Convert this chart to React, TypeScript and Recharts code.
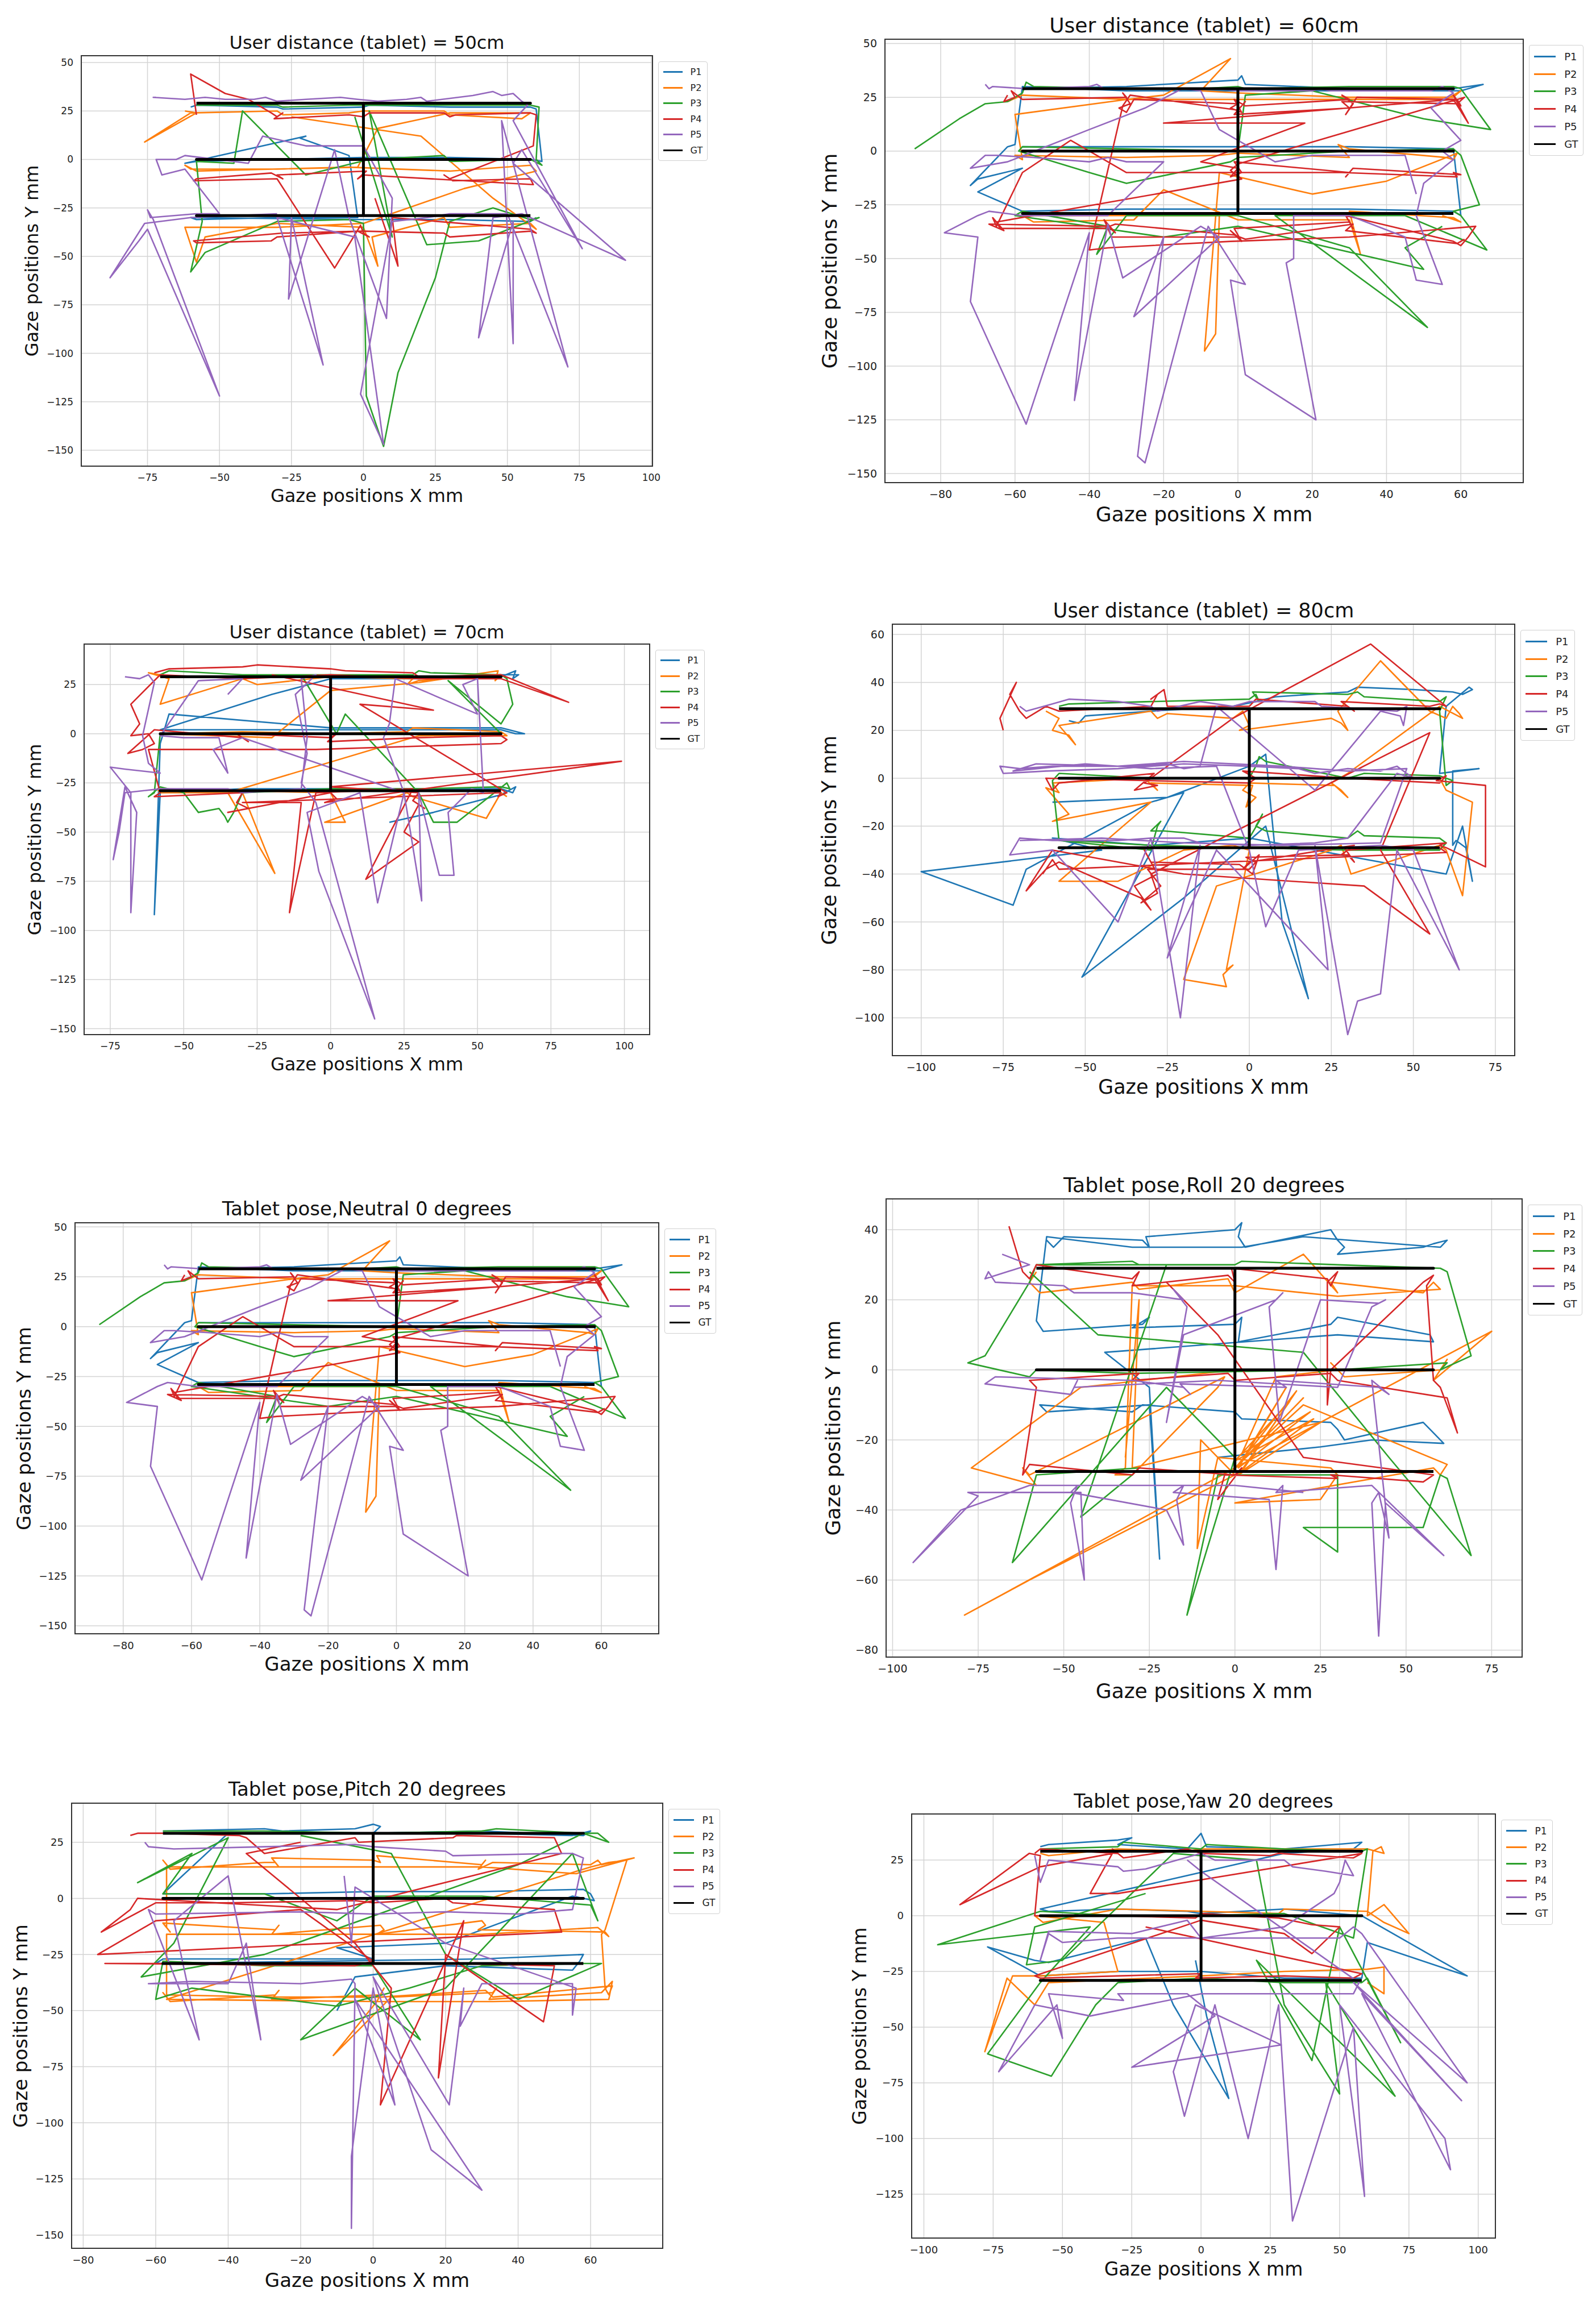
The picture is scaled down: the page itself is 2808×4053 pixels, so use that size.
import { CartesianGrid, ReferenceArea, Scatter, ScatterChart, XAxis, YAxis } from "recharts";

type Pt = [number, number];

// tab10 colours used by matplotlib, then the black ground truth
const COLORS = ["#1f77b4", "#ff7f0e", "#2ca02c", "#d62728", "#9467bd", "#000000"];
const NAMES = ["P1", "P2", "P3", "P4", "P5", "GT"];

// ground-truth "I" pattern (same for every panel)
const GT: Pt[] = [[-58, 29], [58, 29], [0, 29], [0, 0], [-58, 0], [58, 0], [0, 0], [0, -29], [-58, -29], [58, -29]];

// tick labels
const TICKS_X_25 = [-75, -50, -25, 0, 25, 50, 75, 100];
const TICKS_X_20 = [-80, -60, -40, -20, 0, 20, 40, 60];
const TICKS_X_100_75 = [-100, -75, -50, -25, 0, 25, 50, 75];
const TICKS_X_100_100 = [-100, -75, -50, -25, 0, 25, 50, 75, 100];
const TICKS_Y_150_50 = [-150, -125, -100, -75, -50, -25, 0, 25, 50];
const TICKS_Y_150_25 = [-150, -125, -100, -75, -50, -25, 0, 25];
const TICKS_Y_100_60 = [-100, -80, -60, -40, -20, 0, 20, 40, 60];
const TICKS_Y_80_40 = [-80, -60, -40, -20, 0, 20, 40];
const TICKS_Y_125_25 = [-125, -100, -75, -50, -25, 0, 25];

// ---- user distance 50cm
const d50P1: Pt[] = [[-60, 27], [-58, 28], [-30, 27], [-28, 26], [0, 27], [2, 28], [30, 27], [58, 27], [60, 26], [62, -1], [58, 0], [30, 1], [0, 1], [-30, 0], [-58, -1], [-62, -2], [-20, 12], [-22, 11], [-5, 2], [-2, -30], [-30, -30], [-58, -31], [-60, -30], [0, -31], [30, -31], [58, -32], [60, -30]];
const d50P2: Pt[] = [[-62, 25], [-58, 24], [-76, 9], [-60, 24], [-30, 25], [-28, 23], [-5, 24], [0, 25], [28, 25], [30, 23], [55, 21], [58, 24], [30, 24], [5, 16], [-2, -4], [-30, -5], [-60, -5], [-62, -3], [-58, -6], [-5, -4], [30, -6], [58, -3], [60, -6], [35, -15], [0, -33], [-30, -35], [-62, -35], [-58, -53], [-55, -40], [-30, -33], [0, -35], [5, -55], [3, -40], [28, -30], [30, -35], [58, -33], [60, -36], [45, -20], [20, 12], [-25, 22]];
const d50P3: Pt[] = [[-58, 28], [-30, 28], [-28, 27], [-5, 28], [0, 28], [28, 28], [58, 28], [61, 27], [60, 0], [62, -3], [58, 0], [30, -1], [28, 2], [2, 0], [-20, -8], [-42, 25], [-45, -2], [-58, -1], [-56, -32], [-60, -58], [-55, -48], [-30, -32], [-5, -31], [0, -33], [1, -122], [7, -148], [12, -110], [25, -61], [30, -32], [45, -25], [58, -31], [61, -30], [40, -42], [22, -44], [2, 25], [10, -40], [-3, 22]];
const d50P4: Pt[] = [[-58, 23], [-60, 44], [-48, 34], [-40, 31], [-32, 24], [-30, 22], [-28, 24], [-31, 21], [-5, 23], [0, 22], [2, 24], [28, 24], [30, 22], [32, 23], [58, 24], [60, 23], [59, 7], [30, -10], [28, -8], [31, -11], [58, -10], [59, -13], [0, -8], [-2, -10], [1, -6], [-30, -8], [-28, -10], [-32, -7], [-58, -10], [-59, -11], [-30, -10], [-10, -56], [-1, -34], [0, -38], [2, -40], [-2, -37], [-30, -40], [-32, -42], [-58, -43], [-59, -42], [-28, -38], [0, -37], [28, -38], [30, -40], [58, -37], [60, -38], [58, -36], [10, -30], [12, -55], [4, -20]];
const d50P5: Pt[] = [[-72, 32], [-73, 32], [-62, 31], [-55, 32], [-48, 31], [-38, 31], [-34, 32], [-30, 30], [-20, 31], [-8, 32], [-2, 31], [5, 30], [15, 31], [20, 32], [22, 30], [38, 33], [45, 35], [48, 33], [52, 34], [55, 30], [57, 28], [52, 20], [76, -46], [55, 5], [52, -2], [91, -52], [55, -28], [45, -30], [40, -92], [52, -32], [52, -95], [48, 20], [71, -107], [50, -28], [30, -28], [22, -30], [10, -32], [-1, -121], [7, -147], [-3, -40], [-30, -30], [-14, -106], [-25, -30], [-26, -72], [-10, 5], [-5, -30], [8, -82], [10, -20], [0, 7], [-20, 7], [-35, 12], [-40, -2], [-62, 2], [-65, 0], [-72, 0], [-70, -8], [-62, -5], [-50, -28], [-58, -28], [-74, -30], [-75, -26], [-73, -31], [-50, -122], [-75, -36], [-78, -42], [-88, -61], [-76, -33], [-60, -30], [-30, -28]];

// ---- user distance 60cm (same recording appears as "Neutral 0 degrees")
const d60P1: Pt[] = [[-58, 29], [-30, 30], [0, 33], [1, 35], [2, 31], [30, 29], [58, 29], [66, 31], [60, 28], [30, 28], [0, 28], [-30, 28], [-58, 30], [-60, 3], [-62, 2], [-72, -16], [-70, -13], [-58, -8], [-70, -19], [-62, -25], [-58, -28], [-30, -27], [0, -27], [30, -27], [58, -28], [60, -30], [58, 1], [30, 2], [0, 2], [-30, 2], [-58, 2]];
const d60P2: Pt[] = [[-62, 23], [-58, 26], [-30, 24], [-20, 26], [-2, 43], [-10, 28], [0, 27], [30, 25], [58, 25], [60, 28], [56, 24], [30, 24], [0, 24], [-30, 24], [-60, 17], [-58, -4], [-60, -2], [-30, -3], [-5, -2], [0, -1], [30, -3], [27, 3], [30, 1], [56, -3], [58, -4], [59, -1], [40, -14], [20, -20], [-5, -10], [-9, -93], [-6, -85], [-5, -30], [-30, -30], [-58, -30], [-55, -33], [-28, -32], [-20, -18], [0, -32], [30, -32], [33, -48], [30, -28], [58, -31], [60, -33], [55, -30]];
const d60P3: Pt[] = [[-87, 1], [-75, 15], [-68, 22], [-62, 23], [-58, 27], [-57, 32], [-55, 30], [-30, 29], [-10, 29], [0, 30], [2, 29], [30, 30], [45, 30], [58, 30], [60, 29], [68, 10], [50, 15], [20, 28], [2, 26], [0, 0], [-30, 1], [-58, 2], [-59, 0], [-40, -10], [-30, -15], [-2, -5], [0, -3], [30, 0], [58, 1], [60, -2], [65, -25], [58, -28], [60, -30], [67, -46], [45, -30], [10, -30], [51, -82], [30, -45], [0, -30], [-30, -30], [-38, -48], [-35, -35], [-58, -28], [-60, -30], [-20, -40], [0, -35], [50, -55], [45, -45], [55, -35]];
const d60P4: Pt[] = [[-62, 26], [-63, 23], [-60, 25], [-61, 28], [-58, 24], [-30, 25], [-31, 27], [-29, 22], [-32, 20], [-30, 18], [-28, 24], [0, 22], [-2, 20], [1, 18], [-1, 24], [2, 21], [30, 24], [28, 26], [31, 22], [29, 17], [32, 25], [59, 24], [60, 21], [58, 26], [62, 13], [58, 24], [-20, 13], [18, 13], [-10, -5], [0, -8], [-2, -12], [1, -10], [-1, -5], [30, -10], [29, -12], [31, -8], [60, -11], [58, -10], [59, -12], [28, -10], [-30, -10], [-45, 5], [-58, -10], [-65, -35], [-66, -31], [-63, -37], [-67, -34], [-35, -35], [-33, -38], [-36, -32], [-34, -40], [0, -40], [-2, -37], [1, -42], [-1, -36], [30, -33], [31, -36], [29, -30], [58, -42], [60, -44], [62, -40], [64, -35], [30, -40], [-2, -42], [-35, -45], [-40, -46], [-31, 21], [-29, 26], [0, 19], [2, 23], [-1, 17], [30, 20], [28, 23], [59, 22], [61, 25], [0, -6], [-2, -9], [1, -13], [-65, -33], [-64, -36], [-36, -36], [-33, -34], [-1, -39], [2, -41], [31, -34], [29, -37], [59, -43], [61, -41]];
const d60P5: Pt[] = [[-68, 31], [-67, 29], [-66, 30], [-57, 29], [-40, 30], [-38, 31], [-36, 29], [-20, 29], [-10, 29], [-5, 29], [0, 28], [20, 28], [22, 29], [25, 28], [40, 28], [52, 28], [55, 30], [58, 27], [52, 20], [60, 5], [55, 0], [58, -4], [50, -15], [48, -30], [55, -62], [48, -60], [45, -40], [30, -30], [20, -30], [15, -30], [15, -50], [13, -52], [21, -125], [2, -104], [-2, -60], [2, -62], [-8, -35], [-25, -145], [-27, -142], [-20, -40], [-28, -77], [-5, -40], [-10, -35], [-31, -59], [-35, -34], [-44, -116], [-40, -38], [-57, -127], [-72, -70], [-70, -40], [-79, -38], [-70, -30], [-67, -28], [-58, -30], [-35, -30], [-20, -5], [-30, -5], [-35, -3], [-40, -5], [-55, -3], [-65, -2], [-68, -2], [-72, -8], [-62, -5], [-40, 10], [-25, 20], [-15, 29], [-10, 28], [-5, 10], [10, -5], [20, -2], [30, -2], [45, -2], [48, -20]];

// ---- user distance 70cm
const d70P1: Pt[] = [[-58, 29], [-30, 29], [0, 30], [30, 29], [58, 29], [63, 32], [62, 28], [64, 30], [58, 30], [30, 28], [0, 28], [-20, 20], [-58, 2], [-30, 2], [0, 2], [30, 2], [58, 2], [63, 0], [66, 0], [58, 3], [30, 3], [0, 3], [-55, 10], [-58, -5], [-60, -92], [-58, -30], [-30, -28], [0, -28], [30, -28], [58, -28], [62, -30], [63, -27], [58, -31], [35, -40], [20, -45]];
const d70P2: Pt[] = [[-58, 30], [-62, 31], [-55, 28], [-58, 15], [-30, 28], [-25, 25], [0, 29], [28, 28], [26, 25], [30, 27], [58, 30], [56, 27], [57, 32], [30, 26], [0, 22], [-20, -2], [-58, 0], [-30, 1], [0, 0], [26, 1], [28, 3], [58, 1], [60, -1], [30, -1], [-35, -30], [-19, -71], [-30, -30], [-58, -30], [-59, -28], [-30, -29], [0, -30], [5, -45], [-2, -45], [26, -30], [28, -32], [53, -43], [58, -30], [60, -32]];
const d70P3: Pt[] = [[-58, 30], [-55, 32], [-30, 30], [0, 30], [28, 30], [30, 32], [34, 31], [58, 30], [60, 28], [62, 15], [58, 5], [40, 27], [58, 0], [30, 0], [0, 0], [-30, 0], [-58, 0], [-60, -30], [-62, -32], [-58, -27], [-50, -30], [-45, -40], [-38, -38], [-36, -42], [-35, -45], [-33, -40], [-30, -30], [0, -28], [30, -28], [58, -27], [61, -28], [60, -25], [43, -45], [35, -45], [30, -30], [5, 10], [2, 0], [-10, 30]];
const d70P4: Pt[] = [[-60, 31], [-55, 33], [-30, 34], [-25, 35], [0, 33], [5, 32], [28, 31], [30, 29], [58, 30], [81, 16], [58, 28], [30, 28], [0, 30], [-30, 28], [-58, 30], [-68, 15], [-65, 5], [-68, -1], [-62, 0], [-60, -5], [-64, -8], [-69, -10], [-60, 2], [-30, -2], [-28, -4], [-32, 0], [0, -2], [2, 0], [-1, -4], [30, -2], [58, -1], [60, -3], [58, -5], [-5, -8], [-62, -8], [-58, -30], [-60, -32], [-30, -30], [-32, -35], [-28, -38], [-35, -40], [0, -30], [2, -33], [-2, -35], [99, -14], [0, -27], [30, -30], [28, -34], [32, -38], [30, -36], [25, -50], [30, -55], [12, -74], [28, -28], [-5, -30], [-14, -91], [-10, -35], [-30, -35], [58, -30], [57, -32], [60, -30], [10, 15], [35, 12], [-20, 30]];
const d70P5: Pt[] = [[-70, 29], [-65, 28], [-62, 30], [-60, 26], [-64, -1], [-62, -15], [-58, -20], [-70, -18], [-75, -17], [-68, -30], [-68, -91], [-66, -40], [-70, -27], [-74, -64], [-72, -50], [-70, -30], [-58, -28], [-35, -28], [-30, -30], [-10, -28], [-8, -2], [-10, 28], [-5, 30], [-12, 20], [-8, -10], [-10, -25], [-5, -35], [15, -145], [-4, -70], [-8, -40], [10, -30], [16, -86], [25, -30], [31, -85], [30, -30], [37, -72], [42, -72], [40, -40], [48, -28], [52, -30], [50, 28], [45, 25], [50, 10], [22, 28], [20, 5], [18, -2], [25, -30], [-30, -2], [-40, -8], [-35, -20], [-38, -2], [-50, -2], [-58, -1], [-45, 27], [-30, 28], [-35, 20]];

// ---- user distance 80cm
const d80P1: Pt[] = [[-55, 24], [-52, 23], [-50, 26], [-30, 28], [-5, 30], [2, 32], [8, 34], [30, 36], [33, 38], [50, 37], [62, 36], [65, 35], [68, 37], [67, 38], [60, 30], [58, 2], [70, 4], [62, 3], [62, -28], [63, -26], [66, -29], [68, -43], [65, -20], [60, -40], [20, -30], [0, -25], [-30, -28], [-60, -25], [-45, -30], [-100, -39], [-72, -53], [-68, -38], [-30, -10], [-20, -6], [-51, -83], [-20, -50], [5, -20], [18, -92], [10, -60], [5, 10], [0, 5], [-25, -8], [-60, -10]];
const d80P2: Pt[] = [[-62, 28], [-58, 25], [-60, 20], [-55, 18], [-53, 14], [-58, 22], [-30, 28], [-28, 25], [-25, 27], [-5, 25], [-2, 28], [0, 22], [-3, 20], [25, 25], [28, 23], [30, 20], [27, 28], [40, 49], [55, 28], [60, 25], [62, 30], [64, 27], [65, 25], [58, 30], [30, 2], [25, -2], [28, -5], [30, -8], [26, -3], [0, -2], [-2, -5], [2, -8], [-1, -12], [1, -3], [-30, -2], [-28, -5], [-32, 0], [-60, -2], [-58, -6], [-62, -4], [-55, -15], [-60, -18], [-30, -10], [-58, -43], [-40, -43], [-20, -30], [-5, -28], [0, -30], [-7, -80], [-5, -78], [-8, -82], [-7, -87], [-20, -84], [-10, -45], [25, -30], [28, -28], [31, -40], [58, -28], [60, -30], [65, -49], [68, -10], [60, -5], [58, 0]];
const d80P3: Pt[] = [[-58, 30], [-55, 31], [-30, 32], [0, 33], [2, 35], [3, 32], [1, 36], [30, 35], [33, 36], [35, 34], [58, 32], [60, 34], [58, 28], [60, -3], [62, -1], [58, 1], [35, 2], [30, 0], [5, 7], [3, 9], [2, 5], [0, 0], [-30, 0], [-58, 2], [-60, -1], [-58, -26], [-30, -30], [-28, -20], [-27, -18], [-30, -22], [-26, -22], [0, -25], [3, -18], [4, -15], [2, -20], [5, -22], [30, -25], [33, -22], [35, -24], [58, -25], [60, -27], [58, -30], [30, -30], [0, -29], [-30, -28], [-55, -26]];
const d80P4: Pt[] = [[-75, 20], [-76, 25], [-71, 40], [-73, 35], [-70, 28], [-68, 25], [-62, 30], [-58, 28], [-30, 30], [-28, 35], [-30, 33], [-26, 37], [-25, 30], [0, 30], [2, 33], [30, 30], [32, 28], [28, 32], [55, 30], [58, 31], [60, 30], [37, 56], [-5, 25], [-30, 0], [-32, -2], [-28, -3], [-35, -5], [-29, 2], [-58, -2], [-60, -5], [-62, 0], [0, -2], [2, 0], [-2, 3], [30, 0], [58, -2], [60, 1], [57, -1], [72, -3], [72, -37], [60, -29], [58, -28], [60, -27], [30, -30], [28, -32], [32, -28], [0, -35], [-2, -38], [3, -32], [1, -40], [-3, -36], [-30, -35], [-32, -30], [-28, -40], [-35, -45], [-30, -55], [-33, -50], [-58, -35], [-62, -38], [-68, -47], [-60, -30], [-20, -40], [35, -45], [55, -65], [40, -30], [55, 19], [-30, -40], [-28, -48], [-33, -52], [-27, -45], [-31, -38], [0, -38], [2, -35], [-1, -33], [30, -32], [32, -35], [29, -29], [58, -29], [60, -31], [-58, -38], [-60, -34], [-63, -40]];
const d80P5: Pt[] = [[-70, 30], [-68, 28], [-60, 31], [-55, 33], [-40, 32], [-30, 30], [-28, 28], [-15, 32], [-5, 30], [0, 32], [20, 32], [22, 30], [45, 28], [48, 30], [47, 22], [46, 26], [40, 28], [20, -5], [-10, 30], [-15, 5], [-20, 4], [-25, 6], [-35, 5], [-45, 5], [-60, 5], [-70, 4], [-76, 5], [-75, 2], [-62, 3], [-40, 4], [-20, 6], [0, 5], [15, 4], [20, 2], [30, 4], [40, 3], [45, 5], [50, 0], [45, 2], [30, -25], [20, -27], [0, -28], [-15, -27], [-20, -25], [-30, -25], [-40, -26], [-60, -26], [-70, -25], [-73, -32], [-60, -30], [-40, -60], [-30, -25], [-21, -100], [-15, -28], [-25, -75], [-10, -30], [24, -80], [20, -28], [30, -107], [33, -93], [40, -90], [45, -30], [64, -80], [50, -30], [40, -28], [15, -30], [5, -62], [0, -30], [-10, 5], [-30, 4], [-50, 6], [-72, 3], [-65, 6], [-40, 5], [-20, 7], [10, 5], [30, 3], [48, 4], [40, -27], [10, -28], [-20, -27], [-45, -25], [-70, -26]];

// ---- tablet pose roll 20
const rollP1: Pt[] = [[-55, 37], [-53, 35], [-50, 38], [-27, 37], [-25, 35], [-26, 38], [0, 40], [2, 42], [1, 38], [3, 35], [28, 40], [30, 37], [32, 35], [30, 33], [55, 35], [58, 36], [62, 37], [60, 35], [20, 38], [2, 35], [-30, 35], [-55, 38], [-58, 14], [-56, 11], [-27, 13], [-25, 15], [-30, 12], [0, 13], [2, 15], [1, 8], [28, 13], [30, 15], [57, 10], [58, 8], [30, 10], [-38, 5], [-25, -5], [-22, -54], [-25, -10], [-55, -12], [-57, -10], [-30, -12], [-27, -10], [0, -12], [2, -14], [28, -15], [30, -17], [32, -20], [55, -15], [57, -17], [61, -21], [40, -20], [25, -22], [-5, -25]];
const rollP2: Pt[] = [[-58, 28], [-60, 25], [-57, 22], [-30, 25], [-28, 23], [-2, 26], [0, 22], [20, 33], [30, 22], [28, 25], [55, 22], [58, 25], [60, 23], [30, 21], [0, 24], [-30, 24], [-32, -28], [-35, -30], [-30, -30], [-5, -5], [-3, -2], [-60, -30], [-62, -28], [-58, -33], [-77, -28], [-45, -5], [0, 0], [0, -28], [20, -8], [2, -26], [15, -5], [1, -28], [22, -12], [2, -24], [12, -2], [30, 0], [28, 2], [32, -2], [60, 0], [62, 3], [58, -3], [75, 11], [0, -28], [-79, -70], [-60, -60], [0, -30], [-10, -20], [-11, -51], [-5, -25], [28, -28], [30, -30], [25, -37], [0, -38], [58, -28], [60, -30], [62, -27], [20, -10], [1, -27], [18, -6], [2, -29], [23, -14], [0, -26], [16, -9], [1, -30], [25, -15], [-30, -28], [-28, 20], [-32, -25]];
const rollP3: Pt[] = [[-58, 30], [-30, 31], [-28, 30], [0, 30], [2, 31], [30, 30], [60, 29], [62, 28], [69, 4], [60, 0], [62, 2], [30, 0], [-30, -1], [-58, 0], [-60, -2], [-78, 2], [-73, 4], [-60, 25], [-58, 30], [-20, 30], [-45, -42], [-30, -30], [-28, -28], [-58, -30], [-65, -55], [-20, -5], [0, -25], [-14, -70], [-5, -30], [30, -30], [30, -52], [20, -45], [55, -45], [60, -30], [62, -31], [69, -53], [45, -25], [20, 5], [-40, 10], [-60, 28]];
const rollP4: Pt[] = [[-66, 41], [-62, 28], [-60, 26], [-58, 30], [-30, 26], [-28, 28], [-30, 24], [-2, 27], [0, 25], [-1, 29], [27, 26], [28, 24], [30, 28], [27, 25], [27, -10], [28, 0], [55, 25], [58, 27], [56, 24], [58, -3], [60, -5], [65, -18], [62, -8], [30, -3], [28, -1], [0, -3], [-2, -1], [-30, -3], [-28, -1], [-60, -3], [-58, -5], [-62, -30], [-60, -27], [-30, -30], [-28, -28], [0, -30], [2, -28], [-5, -37], [-3, -30], [30, -31], [28, -30], [55, -32], [58, -30], [20, -25], [-5, 10], [-20, 25]];
const rollP5: Pt[] = [[-68, 33], [-60, 30], [-73, 26], [-72, 28], [-70, 25], [-50, 24], [-47, 22], [-30, 22], [-15, 20], [-18, 23], [-14, 18], [-20, -15], [-15, 10], [12, 20], [14, 22], [10, 18], [13, -15], [25, 20], [42, 19], [44, 20], [40, 18], [30, -5], [-5, -3], [-47, -5], [-46, -3], [-48, -7], [-73, -4], [-70, -2], [-30, -3], [-15, -5], [-13, -7], [-16, -4], [15, -5], [12, -3], [42, -5], [45, -7], [40, -3], [45, -48], [42, -35], [40, -38], [42, -76], [44, -38], [61, -53], [40, -33], [12, -35], [14, -33], [12, -57], [10, -37], [-18, -35], [-15, -33], [-17, -37], [-15, -50], [-20, -40], [-48, -35], [-46, -33], [-48, -38], [-44, -60], [-45, -35], [-78, -35], [-75, -36], [-94, -55], [-80, -40], [-60, -33], [-40, -33], [0, -33], [20, -35]];

// ---- tablet pose pitch 20
const pitchP1: Pt[] = [[-58, 30], [-30, 31], [-25, 30], [-5, 31], [0, 33], [2, 32], [0, 29], [30, 30], [58, 28], [60, 30], [55, 28], [30, 29], [-40, 29], [-58, 2], [-30, 2], [0, 3], [30, 3], [58, 4], [60, 2], [61, -1], [55, 1], [20, -20], [-10, -22], [0, -27], [-30, -27], [-58, -27], [-60, -29], [30, -27], [58, -25], [57, -28], [55, -32], [20, -30], [-5, -35], [-10, -50]];
const pitchP2: Pt[] = [[-57, 15], [-58, 17], [-56, 13], [-30, 16], [-27, 16], [-26, 14], [-28, 18], [0, 17], [2, 16], [1, 19], [30, 15], [31, 17], [29, 13], [33, 16], [60, 15], [62, 17], [63, 15], [72, 18], [56, 11], [30, 14], [-57, 14], [-57, -13], [-56, -15], [-58, -11], [-27, -14], [-26, -12], [-28, -16], [2, -12], [3, -14], [1, -16], [30, -10], [31, -12], [29, -14], [64, -15], [65, -17], [62, -13], [30, -16], [-57, -16], [-57, -44], [-58, -42], [-56, -46], [-27, -43], [-26, -41], [-28, -45], [2, -43], [3, -40], [1, -46], [-11, -70], [5, -44], [33, -42], [34, -40], [32, -45], [63, -42], [66, -37], [65, -45], [33, -46], [2, -46], [-57, -45], [60, 14], [65, 16], [70, 17], [64, -14], [63, -16], [64, -40], [65, -43], [66, -39], [33, -44], [31, -41], [2, -44], [-27, -44], [-57, -43]];
const pitchP3: Pt[] = [[-58, 30], [-30, 30], [0, 29], [30, 30], [34, 31], [58, 29], [62, 29], [65, 25], [58, 29], [40, 15], [-30, -25], [-64, -35], [-55, -20], [-40, 27], [-65, 7], [-50, 20], [-58, 2], [-30, 2], [-10, -10], [0, 1], [30, 1], [60, -3], [62, -10], [55, 20], [20, -40], [-20, -63], [-5, -40], [13, -63], [0, -30], [-30, -30], [-58, -28], [-60, -45], [-50, -40], [-25, -45], [-10, -48], [10, -40], [30, -30], [58, -29], [63, -29], [40, -45], [20, -25], [5, 20], [-20, 28]];
const pitchP4: Pt[] = [[-67, 28], [-65, 29], [-58, 29], [-37, 28], [-35, 27], [-30, 20], [-5, 27], [-4, 25], [22, 27], [23, 28], [50, 27], [52, 20], [-10, -5], [-65, 0], [-67, -5], [-75, -15], [-60, -2], [-40, -2], [-5, -1], [0, -2], [20, 0], [22, -2], [50, -5], [52, -15], [-76, -25], [-60, -10], [-20, -5], [0, -28], [-5, -30], [-74, -29], [-60, -29], [-30, -29], [0, -29], [22, -29], [50, -30], [47, -55], [20, -25], [18, -80], [25, -10], [2, -92], [5, -40], [-5, -20], [-35, 20], [-20, 25]];
const pitchP5: Pt[] = [[-63, 25], [-62, 23], [-55, 22], [-30, 23], [-5, 24], [0, 23], [20, 21], [22, 19], [50, 20], [55, 20], [58, 18], [55, -5], [40, -7], [20, -6], [0, -7], [-20, -6], [-60, -7], [-62, -5], [-48, -63], [-55, -10], [-40, 10], [-31, -63], [-35, -20], [-40, -38], [-62, -38], [-50, -37], [-20, -38], [-6, -36], [-5, -38], [-6, -147], [-6, -115], [0, -40], [6, -92], [-5, -45], [30, -130], [16, -112], [0, -35], [21, -92], [25, -40], [24, -57], [30, -38], [55, -38], [55, -52], [56, -40], [20, -20], [-5, 5], [-6, -20], [-8, 10]];

// ---- tablet pose yaw 20
const yawP1: Pt[] = [[-58, 31], [-55, 32], [-30, 34], [-25, 35], [-30, 32], [-5, 30], [0, 37], [2, 31], [30, 30], [58, 33], [55, 30], [30, 28], [-58, 3], [-55, 2], [-30, 3], [-5, 2], [0, 1], [30, 3], [58, 0], [96, -27], [60, -12], [58, -28], [30, -28], [0, -25], [-30, -25], [-58, -27], [-77, -14], [-60, -20], [-55, -21], [-20, -10], [-10, -40], [10, -82], [2, -45], [-2, -20]];
const yawP2: Pt[] = [[-58, 28], [-55, 27], [-30, 30], [-5, 29], [0, 30], [30, 30], [60, 30], [66, 28], [65, 31], [62, 29], [60, 0], [66, 5], [75, -8], [66, -3], [60, 2], [30, 3], [28, 1], [0, 2], [-30, 3], [-57, -3], [-60, 0], [-35, -3], [-30, -25], [-58, -27], [-68, -27], [-78, -61], [-70, -28], [-60, -40], [-55, -30], [0, -27], [30, -25], [60, -24], [66, -23], [66, -35], [60, -30]];
const yawP3: Pt[] = [[-58, 30], [-30, 31], [-28, 33], [0, 30], [2, 32], [30, 30], [58, 29], [60, 30], [55, -10], [30, 1], [0, 0], [-30, 0], [-58, 2], [-95, -13], [-40, -5], [-58, -30], [-77, -62], [-54, -72], [-38, -40], [-30, -30], [0, -28], [30, -30], [58, -30], [60, -28], [72, -57], [50, -5], [40, -65], [20, -20], [70, -81], [45, -30], [50, -80], [30, -40], [20, 25], [-10, 28], [-50, -20], [-63, -22], [-60, -5], [-20, 10]];
const yawP4: Pt[] = [[-60, 28], [-58, 30], [-30, 28], [-32, 30], [-28, 26], [-5, 30], [0, 28], [25, 27], [28, 28], [55, 26], [58, 28], [-30, 10], [-40, 10], [-32, 28], [-58, 22], [-87, 5], [-62, 28], [-58, 27], [-60, 0], [-30, 0], [-2, -1], [0, 1], [28, -1], [40, -4], [50, -5], [40, -17], [30, -8], [0, -2], [-60, -27], [-58, -28], [-30, -27], [0, -26], [-2, -28], [30, -27], [55, -28], [58, -26], [-20, -5]];
const yawP5: Pt[] = [[-60, 27], [-58, 15], [-55, 25], [-30, 22], [-28, 20], [-20, 21], [0, 28], [5, 25], [30, 25], [33, 22], [45, 20], [55, 18], [52, 25], [50, 15], [48, 10], [30, -5], [0, -10], [-5, -2], [-25, -8], [-55, -7], [-58, -20], [-55, -8], [-50, -12], [-30, -10], [5, -10], [50, -10], [55, -5], [58, -8], [96, -75], [55, -30], [94, -83], [58, -35], [90, -114], [88, -100], [50, -40], [59, -126], [55, -50], [33, -137], [28, -40], [17, -100], [5, -40], [-6, -90], [-10, -70], [-2, -40], [29, -58], [-25, -68], [5, -45], [-5, -35], [-30, -35], [-28, -38], [-55, -35], [-50, -55], [-52, -40], [-73, -70], [-60, -40], [-40, -45], [0, -35], [30, -35], [55, -35], [57, -30], [0, 20], [-5, 25]];

interface PanelCfg {
  title: string;
  box: [number, number, number, number]; // plot area x0, y0, x1, y1 on the page
  xDomain: [number, number];
  yDomain: [number, number];
  xTicks: number[];
  yTicks: number[];
  fs: number; // tick font size
  big: number; // title / axis label font size
  ylabX: number;
  xlabY: number;
  titleY: number;
  series: Pt[][];
}

const PANELS: PanelCfg[] = [
  { title: "User distance (tablet) = 50cm", box: [143, 98, 1148, 820], xDomain: [-98, 100.4], yDomain: [-158.2, 53.5], xTicks: TICKS_X_25, yTicks: TICKS_Y_150_50, fs: 17, big: 32, ylabX: 56, xlabY: 872, titleY: 75, series: [d50P1, d50P2, d50P3, d50P4, d50P5] },
  { title: "User distance (tablet) = 60cm", box: [1557, 69, 2680, 849], xDomain: [-95, 76.8], yDomain: [-154.2, 52], xTicks: TICKS_X_20, yTicks: TICKS_Y_150_50, fs: 19, big: 36, ylabX: 1459, xlabY: 904, titleY: 44, series: [d60P1, d60P2, d60P3, d60P4, d60P5] },
  { title: "User distance (tablet) = 70cm", box: [148, 1133, 1143, 1820], xDomain: [-83.9, 108.6], yDomain: [-153, 45.6], xTicks: TICKS_X_25, yTicks: TICKS_Y_150_25, fs: 17, big: 32, ylabX: 61, xlabY: 1872, titleY: 1112, series: [d70P1, d70P2, d70P3, d70P4, d70P5] },
  { title: "User distance (tablet) = 80cm", box: [1570, 1098, 2665, 1857], xDomain: [-108.8, 80.9], yDomain: [-115.8, 64.3], xTicks: TICKS_X_100_75, yTicks: TICKS_Y_100_60, fs: 19, big: 35, ylabX: 1459, xlabY: 1912, titleY: 1074, series: [d80P1, d80P2, d80P3, d80P4, d80P5] },
  { title: "Tablet pose,Neutral 0 degrees", box: [132, 2151, 1159, 2874], xDomain: [-94.1, 76.8], yDomain: [-154, 52.1], xTicks: TICKS_X_20, yTicks: TICKS_Y_150_50, fs: 18, big: 34, ylabX: 42, xlabY: 2927, titleY: 2126, series: [d60P1, d60P2, d60P3, d60P4, d60P5] },
  { title: "Tablet pose,Roll 20 degrees", box: [1559, 2109, 2678, 2915], xDomain: [-101.9, 83.9], yDomain: [-82, 48.8], xTicks: TICKS_X_100_75, yTicks: TICKS_Y_80_40, fs: 19, big: 36, ylabX: 1465, xlabY: 2974, titleY: 2084, series: [rollP1, rollP2, rollP3, rollP4, rollP5] },
  { title: "Tablet pose,Pitch 20 degrees", box: [126, 3172, 1166, 3955], xDomain: [-83.2, 79.9], yDomain: [-155.9, 42.4], xTicks: TICKS_X_20, yTicks: TICKS_Y_150_25, fs: 18, big: 34, ylabX: 36, xlabY: 4011, titleY: 3147, series: [pitchP1, pitchP2, pitchP3, pitchP4, pitchP5] },
  { title: "Tablet pose,Yaw 20 degrees", box: [1604, 3191, 2631, 3937], xDomain: [-104.4, 106.2], yDomain: [-144.7, 45.7], xTicks: TICKS_X_100_100, yTicks: TICKS_Y_125_25, fs: 18, big: 33, ylabX: 1512, xlabY: 3991, titleY: 3168, series: [yawP1, yawP2, yawP3, yawP4, yawP5] },
];

const FONT = "'DejaVu Sans', 'Liberation Sans', sans-serif";
const YW = 90; // y-axis band width
const PT = 10; // top padding of each chart
const PR = 30; // room for the last x tick label
const XH = 50; // x-axis band height

const fmt = (v: number) => (v < 0 ? "\u2212" + Math.abs(v) : String(v));
const toPts = (a: Pt[]) => a.map(([x, y]) => ({ x, y }));
const noDot = () => <g />;

function Panel({ cfg }: { cfg: PanelCfg }) {
  const [x0, y0, x1, y1] = cfg.box;
  const W = YW + (x1 - x0) + PR;
  const H = PT + (y1 - y0) + XH;
  const cx = (x0 + x1) / 2;
  const cy = (y0 + y1) / 2;
  const all = [...cfg.series, GT];
  const lfs = cfg.fs;

  return (
    <>
      <div style={{ position: "absolute", left: cx, top: cfg.titleY, transform: "translate(-50%,-50%)", fontSize: cfg.big, fontFamily: FONT, whiteSpace: "nowrap", color: "#111" }}>
        {cfg.title}
      </div>
      <div style={{ position: "absolute", left: x0 - YW, top: y0 - PT }}>
        <ScatterChart width={W} height={H} margin={{ top: PT, right: PR, bottom: 0, left: 0 }}>
          <CartesianGrid stroke="#d4d4d4" strokeWidth={1.5} />
          <XAxis
            type="number"
            dataKey="x"
            domain={cfg.xDomain}
            ticks={cfg.xTicks}
            allowDataOverflow
            interval={0}
            height={XH}
            axisLine={false}
            tickLine={false}
            tickMargin={8}
            tickFormatter={fmt}
            tick={{ fontSize: cfg.fs, fill: "#222", fontFamily: FONT }}
          />
          <YAxis
            type="number"
            dataKey="y"
            domain={cfg.yDomain}
            ticks={cfg.yTicks}
            allowDataOverflow
            interval={0}
            width={YW}
            axisLine={false}
            tickLine={false}
            tickMargin={8}
            tickFormatter={fmt}
            tick={{ fontSize: cfg.fs, fill: "#222", fontFamily: FONT }}
          />
          {all.map((s, i) => (
            <Scatter
              key={NAMES[i]}
              name={NAMES[i]}
              data={toPts(s)}
              fill={COLORS[i]}
              line={{ stroke: COLORS[i], strokeWidth: i === 5 ? 5 : 2.6, strokeLinejoin: "round" }}
              shape={noDot}
              legendType="line"
              isAnimationActive={false}
            />
          ))}
          <ReferenceArea x1={cfg.xDomain[0]} x2={cfg.xDomain[1]} y1={cfg.yDomain[0]} y2={cfg.yDomain[1]} fill="none" stroke="#333" strokeWidth={2} strokeOpacity={1} />
        </ScatterChart>
      </div>
      <div style={{ position: "absolute", left: cx, top: cfg.xlabY, transform: "translate(-50%,-50%)", fontSize: cfg.big, fontFamily: FONT, whiteSpace: "nowrap", color: "#111" }}>
        Gaze positions X mm
      </div>
      <div style={{ position: "absolute", left: cfg.ylabX, top: cy, transform: "translate(-50%,-50%) rotate(-90deg)", fontSize: cfg.big, fontFamily: FONT, whiteSpace: "nowrap", color: "#111" }}>
        Gaze positions Y mm
      </div>
      <div
        style={{
          position: "absolute",
          left: x1 + 10,
          top: y0 + 10,
          background: "#fff",
          border: "1.5px solid #d0d0d0",
          borderRadius: 4,
          padding: "4px 8px",
          fontFamily: FONT,
          fontSize: lfs - 1,
          color: "#222",
        }}
      >
        {NAMES.map((n, i) => (
          <div key={n} style={{ display: "flex", alignItems: "center", height: lfs * 1.62 }}>
            <div style={{ width: lfs * 2, height: 3, background: COLORS[i], marginRight: lfs * 0.8 }} />
            <span>{n}</span>
          </div>
        ))}
      </div>
    </>
  );
}

export default function App() {
  return (
    <div style={{ position: "absolute", left: 0, top: 0, width: 2808, height: 4053, background: "#fff", overflow: "hidden" }}>
      {PANELS.map((p) => (
        <Panel key={p.title} cfg={p} />
      ))}
    </div>
  );
}
